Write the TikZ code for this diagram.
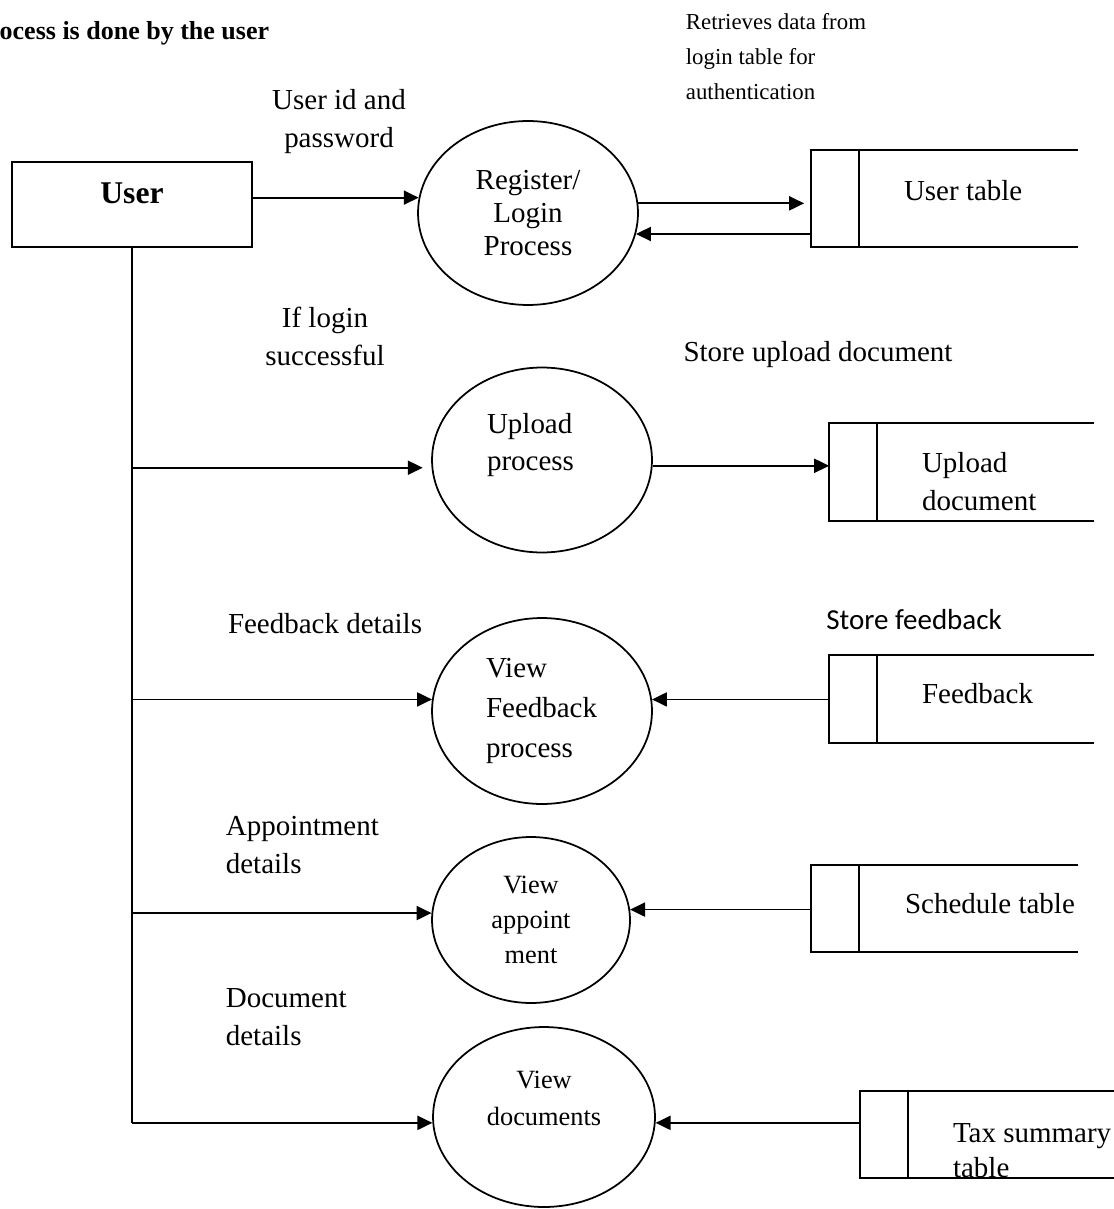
\documentclass[tikz,border=0pt]{standalone}
\usepackage{fontspec}
\setmainfont{Liberation Serif}
\newfontfamily\calibri{Carlito}
\usetikzlibrary{shapes.geometric,arrows.meta,positioning}

\begin{document}
\begin{tikzpicture}[x=0.02cm, y=-0.02cm, line width=1pt,
  >={Triangle[length=8.5pt,width=8pt]},
  txt/.style={inner sep=0pt, font=\fontsize{16.5}{21.6}\selectfont},
  small/.style={inner sep=0pt, align=left, font=\fontsize{13}{19.9}\selectfont},
  proc/.style={draw, ellipse, inner sep=0pt},
  store/.style={inner sep=0pt, minimum height=1.7cm}]
\useasboundingbox (0,0) rectangle (1114,1209);

\node[anchor=east, inner sep=0pt, font=\fontsize{14.8}{18}\selectfont\bfseries] (title) at (270,33) {ocess is done by the user};

% external entity
\node[draw, minimum width=4.8cm, minimum height=1.7cm, text height=12pt, text depth=13pt,
  font=\fontsize{18}{22}\selectfont\bfseries] (user) at (132,204.5) {User};

% processes
\node[proc, minimum width=4.4cm, minimum height=3.68cm, align=center,
  font=\fontsize{16.5}{18.8}\selectfont] (reg) at (528,213) {Register/\\Login\\Process};
\node[proc, minimum width=4.4cm, minimum height=3.7cm, text width=2.2cm, align=left,
  font=\fontsize{16.5}{21}\selectfont] (upl) at (542,460) {Upload\\process\\~};
\node[proc, minimum width=4.4cm, minimum height=3.72cm, text width=2.24cm, align=left,
  font=\fontsize{16.5}{22.5}\selectfont] (vfb) at (542,711) {View\\Feedback\\process};
\node[proc, minimum width=3.96cm, minimum height=3.32cm, align=center,
  font=\fontsize{15}{19.9}\selectfont] (vapp) at (531,920) {View\\appoint\\ment};
\node[proc, minimum width=4.44cm, minimum height=3.6cm, align=center,
  font=\fontsize{15}{21}\selectfont] (vdoc) at (544,1117) {View\\documents\\~};

% data stores
\node[store, minimum width=5.3cm, minimum height=1.9cm] (ustore) at (944.5,198.5) {};
\node[store, minimum width=5.26cm, minimum height=1.92cm] (upstore) at (961.5,472) {};
\node[store, minimum width=5.26cm, minimum height=1.72cm] (fbstore) at (961.5,699) {};
\node[store, minimum width=5.3cm] (schstore) at (944.5,908.5) {};
\node[store, minimum width=5.06cm] (taxstore) at (987.5,1134.5) {};
\foreach \s in {ustore,upstore,fbstore,schstore,taxstore}
  \draw (\s.north east) -- (\s.north west) -- (\s.south west) -- (\s.south east)
    ([xshift=0.96cm]\s.north west) -- ([xshift=0.96cm]\s.south west);

\node[txt, right=1.84cm of ustore.west, yshift=0.15cm] (ut) {User table};
\node[txt, align=left, right=1.84cm of upstore.west, yshift=-0.19cm] (upt) {Upload\\document};
\node[txt, right=1.84cm of fbstore.west, yshift=0.1cm] (fbt) {Feedback};
\node[txt, right=1.86cm of schstore.west, yshift=0.09cm] (scht) {Schedule table};
\node[txt, align=left, right=1.84cm of taxstore.west, yshift=-0.32cm,
  font=\fontsize{16.5}{20}\selectfont] (taxt) {Tax summary\\table};

% flow labels
\node[txt, align=center] (uidl) at (339,122) {User id and\\password};
\node[small, anchor=west] (retl) at (685,57) {Retrieves data from\\login table for\\authentication};
\node[txt, align=center] (ifl) at (325,336) {If login\\successful};
\node[txt] (supl) at (818,355) {Store upload document};
\node[txt] (fbl) at (325,624) {Feedback details};
\node[txt, font=\calibri\fontsize{16.5}{20}\selectfont] (sfbl) at (914,620) {Store feedback};
\node[txt, align=left, anchor=west] (appl) at (225,845.5) {Appointment\\details};
\node[txt, align=left, anchor=west] (docl) at (225,1017.5) {Document\\details};

% flows
\draw[->] (user.east |- reg.172) -- (reg.172);
\draw[->, shorten >=4pt] (reg.5) -- (reg.5 -| ustore.west);
\draw[->] (ustore.west |- reg.-11) -- (reg.-11);
\draw (user.south) -- (user.south |- vdoc.183);
\draw[->, shorten >=5pt] (user.south |- upl.184) -- (upl.184);
\draw[->] (user.south |- vfb.174) -- (vfb.174);
\draw[->] (user.south |- vapp.176) -- (vapp.176);
\draw[->] (user.south |- vdoc.183) -- (vdoc.183);
\draw[->] (upl.-3) -- (upl.-3 -| upstore.west);
\draw[->] (fbstore.west |- vfb.6) -- (vfb.6);
\draw[->] (schstore.west |- vapp.6) -- (vapp.6);
\draw[->] (taxstore.west |- vdoc.-3) -- (vdoc.-3);
\end{tikzpicture}
\end{document}
